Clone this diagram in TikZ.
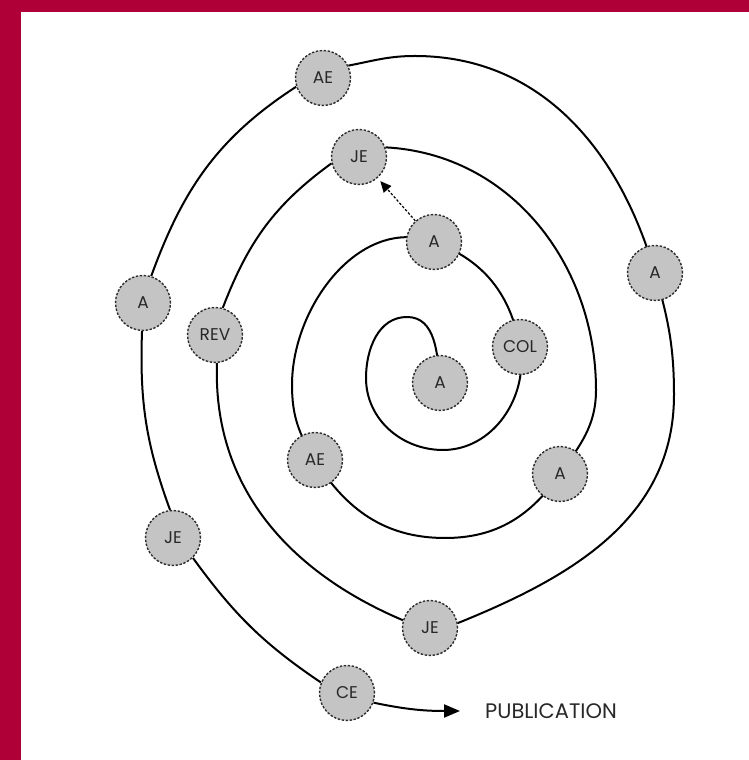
\documentclass[tikz,border=0pt]{standalone}
\usepackage{fontspec}
\setmainfont{Poppins}
\usetikzlibrary{arrows.meta}
\pgfdeclarelayer{background}
\pgfdeclarelayer{back0}
\pgfsetlayers{back0,background,main}
\definecolor{frame}{RGB}{175,0,55}
\definecolor{nodefill}{RGB}{196,196,196}
\definecolor{nodeedge}{RGB}{45,45,45}
\definecolor{labeltext}{RGB}{40,40,40}
\tikzset{
  stage/.style={circle, fill=nodefill, draw=nodeedge, line width=1.4pt,
    dash pattern=on 2.4pt off 1.6pt, minimum size=55pt, inner sep=0pt,
    text=labeltext, font=\fontsize{17}{17}\selectfont},
  spiral/.style={line width=2pt, black},
  jump/.style={line width=1.2pt, dash pattern=on 2.5pt off 1.8pt,
    -{Triangle[length=11pt,width=10pt]}, shorten >=4pt},
  pubarrow/.style={line width=2pt, -{Triangle[length=16pt,width=13pt]}},
  pubtext/.style={anchor=west, inner sep=0pt, text=labeltext,
    font=\fontsize{21}{21}\selectfont}
}
\begin{document}
\begin{tikzpicture}[x=1pt,y=1pt]
\useasboundingbox (0,0) rectangle (749,760);
\begin{pgfonlayer}{back0}
  \fill[white] (0,0) rectangle (749,760);
  \fill[frame] (0,748) rectangle (749,760);
  \fill[frame] (0,0) rectangle (21,760);
\end{pgfonlayer}

\node[stage] (a1) at (440,377) {A};
\node[stage] (col) at (520,413) {COL};
\node[stage] (a2) at (434,518) {A};
\node[stage] (ae1) at (315,300) {AE};
\node[stage] (a3) at (560,286) {A};
\node[stage] (je1) at (359,603) {JE};
\node[stage] (rev) at (215,425) {REV};
\node[stage] (je2) at (430,132) {JE};
\node[stage] (a4) at (655,487) {A};
\node[stage] (ae2) at (323,682) {AE};
\node[stage] (a5) at (143,457) {A};
\node[stage] (je3) at (173,222) {JE};
\node[stage] (ce) at (347,67) {CE};
\coordinate (pubtip) at (460,49);
\node[pubtext] (pub) at (485,49) {PUBLICATION};

% turning points of the spiral
\coordinate (t0) at (407,443);
\coordinate (l0) at (366,382);
\coordinate (b0) at (443,310);
\coordinate (l1) at (292,375);
\coordinate (b1) at (445,222);
\coordinate (r1) at (596,370);
\coordinate (r3) at (674,365);
\coordinate (t3) at (415,704);

\begin{pgfonlayer}{background}
\draw[spiral]
  (a1.center) to[out=95,in=0] (t0)
       to[out=180,in=90] (l0)
       to[out=270,in=180] (b0)
       to[out=0,in=280] (col.center)
       to[out=100,in=340] (a2.center)
       to[out=160,in=90] (l1)
       to[out=270,in=122] (ae1.center)
       to[out=-58,in=180] (b1)
       to[out=0,in=235] (a3.center)
       to[out=55,in=270] (r1)
       to[out=90,in=-3] (je1.20)
  (je1.193) to[out=216,in=69] (rev.74)
  (rev.274) to[out=268,in=157] (je2.164)
  (je2.10) to[out=22,in=270] (r3)
       to[out=90,in=286] (a4.center)
       to[out=106,in=0] (t3)
       to[out=180,in=11] (ae2.26)
  (ae2.198) to[out=213,in=70] (a5.73)
  (a5.268) to[out=268,in=110] (je3.96)
  (je3.-45) to[out=-54,in=146] (ce.158);
\end{pgfonlayer}

\draw[jump] (a2) -- (je1);
\draw[pubarrow] (ce.-20) to[out=-12,in=180] (pubtip);
\end{tikzpicture}
\end{document}
